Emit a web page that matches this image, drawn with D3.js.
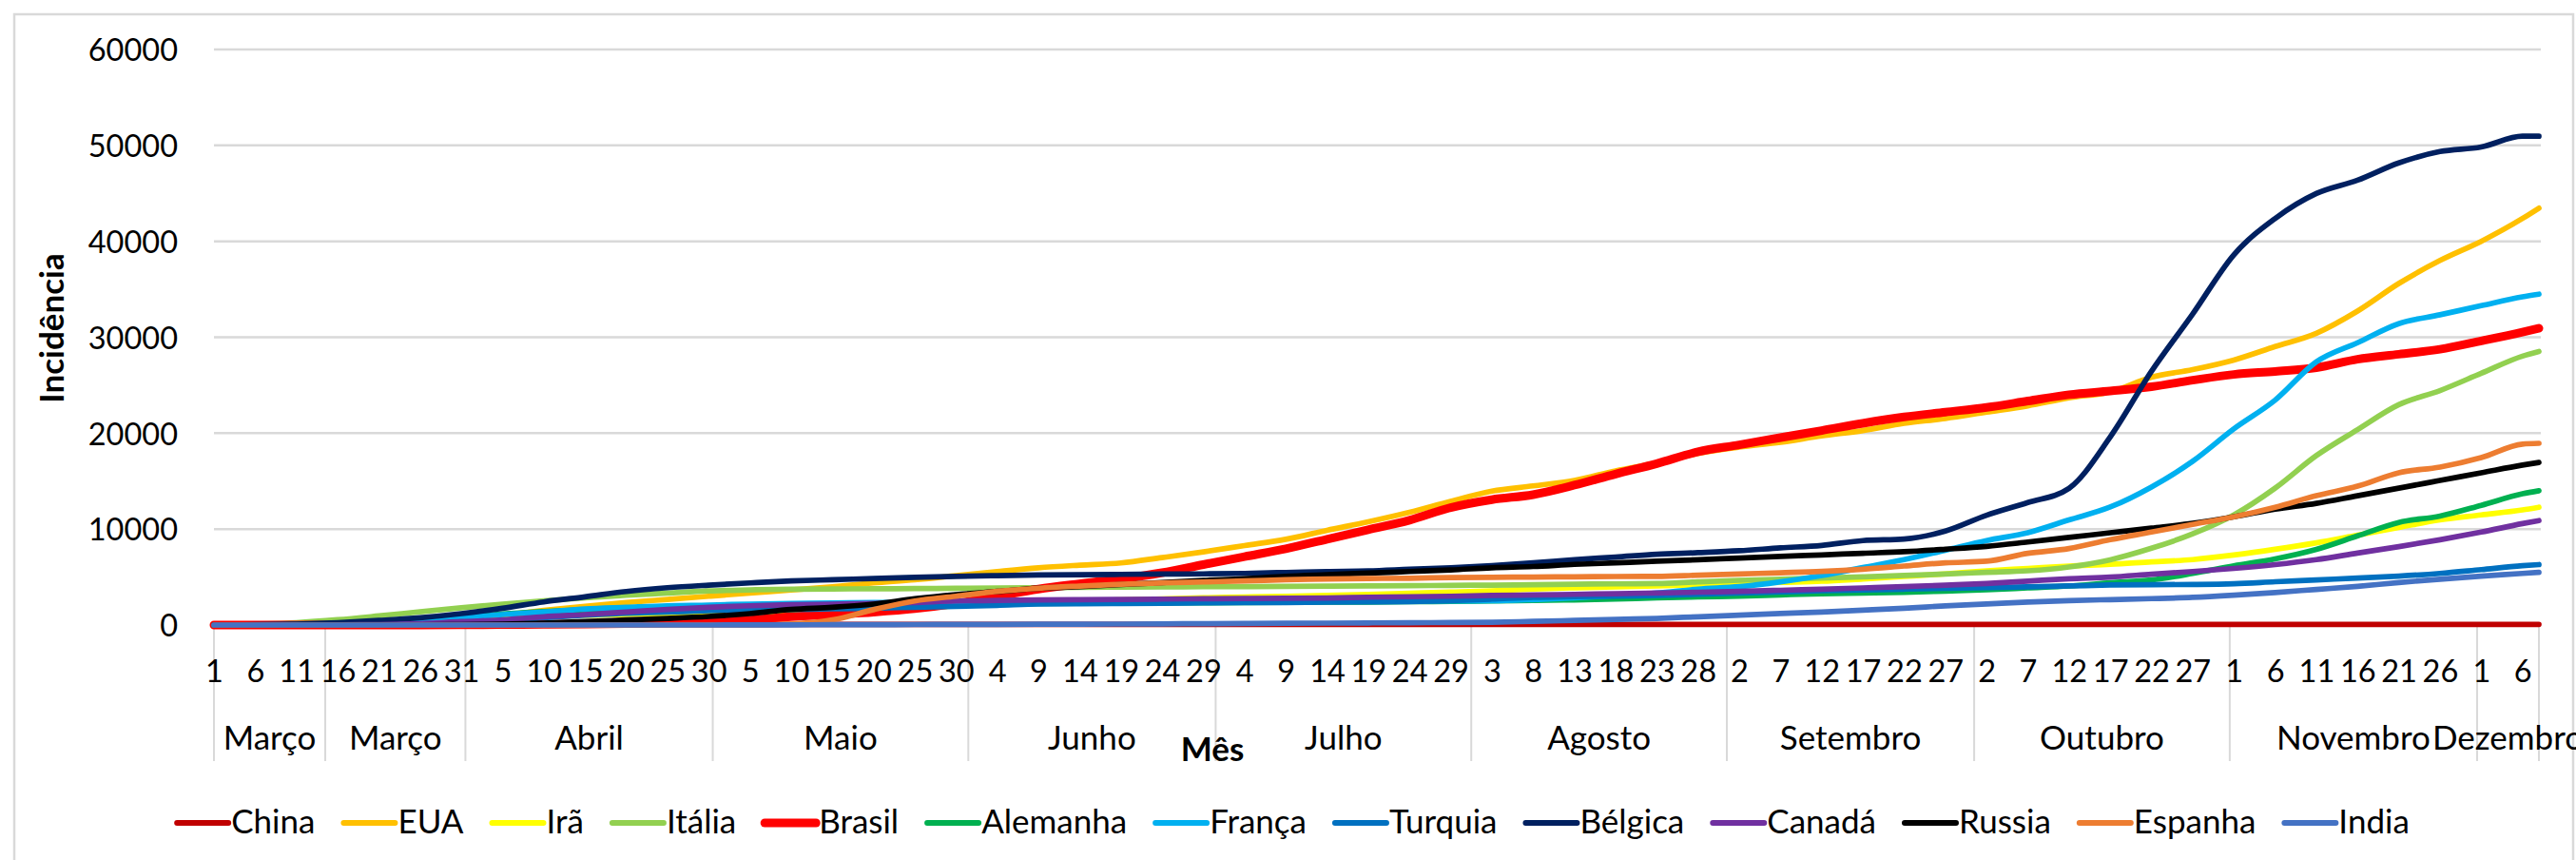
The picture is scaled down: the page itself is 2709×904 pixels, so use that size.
<!DOCTYPE html>
<html>
<head>
<meta charset="utf-8">
<script src="https://cdn.jsdelivr.net/npm/d3@7"></script>
<style>
  html, body { margin: 0; padding: 0; background: #fff; }
  svg { display: block; font-family: Lato, 'Liberation Sans', sans-serif; }
</style>
</head>
<body>
<svg id="chart" width="2709" height="904"></svg>
<script>
// sampled every 5 days (same days as the tick labels) + last day
const sampleDates = [
  '2020-03-01', '2020-03-06', '2020-03-11', '2020-03-16', '2020-03-21', '2020-03-26', '2020-03-31', '2020-04-05', '2020-04-10', '2020-04-15',
  '2020-04-20', '2020-04-25', '2020-04-30', '2020-05-05', '2020-05-10', '2020-05-15', '2020-05-20', '2020-05-25', '2020-05-30', '2020-06-04',
  '2020-06-09', '2020-06-14', '2020-06-19', '2020-06-24', '2020-06-29', '2020-07-04', '2020-07-09', '2020-07-14', '2020-07-19', '2020-07-24',
  '2020-07-29', '2020-08-03', '2020-08-08', '2020-08-13', '2020-08-18', '2020-08-23', '2020-08-28', '2020-09-02', '2020-09-07', '2020-09-12',
  '2020-09-17', '2020-09-22', '2020-09-27', '2020-10-02', '2020-10-07', '2020-10-12', '2020-10-17', '2020-10-22', '2020-10-27', '2020-11-01',
  '2020-11-06', '2020-11-11', '2020-11-16', '2020-11-21', '2020-11-26', '2020-12-01', '2020-12-06', '2020-12-08'
];
const firstDay = '2020-03-01';
const lastDay = '2020-12-08';

const china = [
  57, 57, 58, 58, 58, 58, 58, 58, 58, 58,
  58, 58, 58, 58, 58, 58, 58, 58, 58, 58,
  58, 59, 59, 59, 59, 59, 59, 59, 59, 59,
  59, 59, 60, 60, 60, 60, 60, 60, 60, 60,
  60, 60, 61, 61, 61, 61, 61, 61, 61, 61,
  61, 61, 62, 62, 62, 62, 63, 63
];
const eua = [
  0, 0, 10, 30, 100, 250, 500, 1020, 1520, 1950,
  2340, 2670, 3000, 3330, 3660, 3990, 4390, 4720, 5150, 5580,
  5970, 6240, 6470, 7030, 7620, 8280, 8940, 9870, 10760, 11750,
  12900, 13960, 14500, 15080, 16070, 16900, 17890, 18550, 19050, 19710,
  20270, 21030, 21530, 22190, 22850, 23680, 24300, 25840, 26630, 27630,
  29030, 30420, 32730, 35600, 38000, 40000, 42380, 43460
];
const ira = [
  0, 20, 60, 150, 260, 430, 600, 760, 860, 990,
  1090, 1190, 1290, 1350, 1420, 1520, 1620, 1800, 2000, 2180,
  2400, 2520, 2610, 2720, 2840, 2920, 3000, 3090, 3200, 3320,
  3430, 3560, 3760, 3880, 3980, 4070, 4200, 4330, 4450, 4560,
  4800, 5060, 5330, 5650, 5900, 6150, 6320, 6580, 6820, 7300,
  7890, 8570, 9370, 10170, 10960, 11480, 12000, 12280
];
const italia = [
  0, 100, 250, 550, 950, 1380, 1800, 2180, 2510, 2840,
  3100, 3330, 3560, 3660, 3730, 3760, 3780, 3800, 3830, 3860,
  3880, 3930, 3950, 3970, 3990, 4010, 4030, 4060, 4080, 4100,
  4130, 4160, 4200, 4250, 4290, 4330, 4500, 4660, 4780, 4890,
  5020, 5160, 5320, 5490, 5650, 6050, 6800, 8000, 9500, 11480,
  14270, 17660, 20370, 22970, 24440, 26240, 28030, 28510
];
const brasil = [
  0, 0, 0, 0, 5, 10, 20, 40, 70, 100,
  150, 230, 360, 530, 860, 1100, 1350, 1700, 2250, 3000,
  3750, 4300, 4800, 5450, 6300, 7130, 7950, 8940, 9930, 10920,
  12240, 13070, 13590, 14580, 15740, 16830, 18060, 18780, 19540, 20270,
  21030, 21690, 22190, 22690, 23350, 24010, 24400, 24840, 25520, 26120,
  26440, 26830, 27710, 28230, 28750, 29620, 30540, 30940
];
const alemanha = [
  0, 10, 30, 100, 250, 450, 800, 1150, 1400, 1600,
  1750, 1870, 1950, 2020, 2080, 2120, 2150, 2180, 2200, 2220,
  2240, 2260, 2280, 2300, 2320, 2340, 2360, 2380, 2400, 2430,
  2460, 2510, 2560, 2620, 2700, 2840, 2930, 3010, 3140, 3270,
  3340, 3410, 3540, 3670, 3870, 4070, 4400, 4700, 5380, 6180,
  6900, 7890, 9290, 10690, 11360, 12480, 13680, 14000
];
const franca = [
  0, 5, 30, 100, 220, 430, 760, 1090, 1350, 1680,
  1850, 2010, 2080, 2180, 2240, 2290, 2340, 2360, 2380, 2400,
  2410, 2420, 2440, 2450, 2460, 2470, 2480, 2490, 2500, 2510,
  2520, 2530, 2650, 2840, 3080, 3340, 3740, 4000, 4500, 5160,
  5990, 6810, 7800, 8800, 9620, 10950, 12300, 14390, 17070, 20450,
  23440, 27430, 29430, 31420, 32340, 33290, 34210, 34490
];
const turquia = [
  0, 0, 0, 10, 50, 100, 200, 430, 760, 1020,
  1220, 1350, 1490, 1560, 1620, 1690, 1750, 1850, 1950, 2050,
  2180, 2220, 2240, 2270, 2310, 2330, 2350, 2380, 2410, 2450,
  2550, 2700, 2880, 2960, 3020, 3080, 3210, 3340, 3450, 3570,
  3660, 3740, 3820, 3900, 3980, 4070, 4170, 4200, 4230, 4310,
  4510, 4700, 4900, 5100, 5380, 5780, 6180, 6300
];
const belgica = [
  0, 30, 100, 250, 480, 760, 1190, 1750, 2410, 2940,
  3500, 3890, 4160, 4390, 4590, 4720, 4850, 4980, 5080, 5150,
  5210, 5250, 5280, 5310, 5330, 5380, 5480, 5580, 5640, 5810,
  5970, 6200, 6480, 6810, 7080, 7370, 7540, 7740, 8040, 8300,
  8800, 8960, 9790, 11440, 12770, 14250, 19600, 26440, 32420, 38600,
  42380, 44980, 46370, 48170, 49360, 49840, 50960, 50960
];
const canada = [
  0, 0, 5, 20, 50, 150, 360, 530, 860, 1090,
  1350, 1620, 1850, 2010, 2110, 2180, 2240, 2350, 2510, 2560,
  2610, 2640, 2670, 2700, 2740, 2760, 2780, 2820, 2900, 2950,
  3000, 3080, 3130, 3200, 3270, 3340, 3420, 3510, 3620, 3740,
  3870, 4000, 4160, 4330, 4580, 4830, 5000, 5300, 5580, 5900,
  6300, 6820, 7500, 8170, 8890, 9690, 10570, 10890
];
const russia = [
  0, 0, 0, 5, 10, 20, 50, 100, 200, 360,
  530, 690, 890, 1190, 1620, 1850, 2180, 2740, 3170, 3500,
  3830, 3990, 4220, 4420, 4650, 4820, 5080, 5250, 5410, 5580,
  5740, 5970, 6100, 6320, 6480, 6650, 6800, 6980, 7150, 7310,
  7480, 7640, 7900, 8200, 8650, 9130, 9620, 10100, 10600, 11280,
  12080, 12680, 13480, 14270, 15070, 15870, 16670, 16950
];
const espanha = [
  0, 0, 0, 0, 0, 0, 0, 0, 0, 0,
  0, 0, 0, 0, 100, 530, 1600, 2510, 3000, 3500,
  3830, 4060, 4260, 4390, 4490, 4590, 4720, 4790, 4850, 4880,
  4950, 4980, 5000, 5030, 5060, 5080, 5200, 5320, 5450, 5590,
  5820, 6150, 6480, 6650, 7470, 7970, 8900, 9690, 10490, 11280,
  12280, 13480, 14470, 15870, 16470, 17460, 18860, 18940
];
const india = [
  0, 0, 0, 0, 0, 0, 0, 0, 0, 0,
  0, 0, 0, 10, 20, 30, 40, 50, 60, 70,
  80, 90, 100, 120, 140, 160, 180, 200, 220, 240,
  260, 290, 380, 480, 590, 690, 860, 1030, 1200, 1360,
  1550, 1750, 2000, 2200, 2400, 2550, 2650, 2750, 2880, 3110,
  3390, 3710, 4030, 4430, 4780, 5100, 5380, 5500
];

const countries = ['China', 'EUA', 'Irã', 'Itália', 'Brasil', 'Alemanha', 'França', 'Turquia', 'Bélgica', 'Canadá', 'Russia', 'Espanha', 'India'];
const seriesValues = [china, eua, ira, italia, brasil, alemanha, franca, turquia, belgica, canada, russia, espanha, india];
const colors = ['#C00000', '#FFC000', '#FFFF00', '#92D050', '#FF0000', '#00B050', '#00B0F0', '#0070C0', '#002060', '#7030A0', '#000000', '#ED7D31', '#4472C4'];

const yTicks = [0, 10000, 20000, 30000, 40000, 50000, 60000];
const dayTicks = sampleDates.slice(0, 57);
const monthGroups = [
  { name: 'Março', start: '2020-03-01' },
  { name: 'Março', start: '2020-03-15' },
  { name: 'Abril', start: '2020-04-01' },
  { name: 'Maio', start: '2020-05-01' },
  { name: 'Junho', start: '2020-06-01' },
  { name: 'Julho', start: '2020-07-01' },
  { name: 'Agosto', start: '2020-08-01' },
  { name: 'Setembro', start: '2020-09-01' },
  { name: 'Outubro', start: '2020-10-01' },
  { name: 'Novembro', start: '2020-11-01' },
  { name: 'Dezembro', start: '2020-12-01' }
];

const parse = d3.utcParse('%Y-%m-%d');
const svg = d3.select('#chart');
const numSize = 32.5;
const textSize = 35;
const grey = '#d9d9d9';

svg.append('rect')
  .attr('width', 2709).attr('height', 904).attr('fill', '#fff');
svg.append('rect')
  .attr('x', 15).attr('y', 15)
  .attr('width', 2691).attr('height', 920)
  .attr('fill', 'none').attr('stroke', grey).attr('stroke-width', 2.5);

const plotLeft = 225, plotRight = 2670, plotTop = 52, plotBottom = 657;

const x = d3.scaleUtc()
  .domain([parse(firstDay), parse(lastDay)])
  .range([plotLeft, plotRight]);
const y = d3.scaleLinear()
  .domain([0, 60000])
  .range([plotBottom, plotTop]);
const halfDay = (x(parse('2020-03-02')) - x(parse('2020-03-01'))) / 2;

// grid
svg.append('g')
  .selectAll('line')
  .data(yTicks)
  .enter().append('line')
    .attr('x1', plotLeft).attr('x2', plotRight + 2)
    .attr('y1', d => y(d)).attr('y2', d => y(d))
    .attr('stroke', grey).attr('stroke-width', 2.5);

// y axis
const yAxis = svg.append('g')
  .attr('transform', 'translate(187,0)')
  .call(d3.axisLeft(y).tickValues(yTicks).tickSize(0).tickPadding(0).tickFormat(d3.format('d')));
yAxis.select('.domain').remove();
yAxis.attr('font-family', null).attr('font-size', null);
yAxis.selectAll('text')
  .attr('x', 0).attr('dy', '0.36em')
  .attr('font-size', numSize).attr('fill', '#000');

// month separators
const bounds = monthGroups.map((g, i) => i == 0 ? x(parse(g.start)) : x(parse(g.start)) - halfDay);
bounds.push(x(parse(lastDay)));
svg.append('g')
  .selectAll('line')
  .data(bounds)
  .enter().append('line')
    .attr('x1', d => d).attr('x2', d => d)
    .attr('y1', plotBottom).attr('y2', 800)
    .attr('stroke', grey).attr('stroke-width', 2);

// day labels
const xAxis = svg.append('g')
  .attr('transform', `translate(0,${plotBottom})`)
  .call(d3.axisBottom(x).tickValues(dayTicks.map(parse)).tickSize(0).tickFormat(d3.utcFormat('%-d')));
xAxis.select('.domain').remove();
xAxis.attr('font-family', null).attr('font-size', null);
xAxis.selectAll('text')
  .attr('y', 60).attr('dy', null)
  .attr('font-size', numSize).attr('fill', '#000');

// month labels
svg.append('g')
  .selectAll('text')
  .data(monthGroups)
  .enter().append('text')
    .attr('x', (d, i) => (bounds[i] + bounds[i + 1]) / 2)
    .attr('y', 788)
    .attr('text-anchor', 'middle')
    .attr('font-size', textSize)
    .text(d => d.name);

// lines
const dates = sampleDates.map(parse);
const line = d3.line()
  .x((d, i) => x(dates[i]))
  .y(d => y(d))
  .curve(d3.curveMonotoneX);

svg.append('g')
  .selectAll('path')
  .data(seriesValues)
  .enter().append('path')
    .attr('d', line)
    .attr('fill', 'none')
    .attr('stroke', (d, i) => colors[i])
    .attr('stroke-width', (d, i) => countries[i] == 'Brasil' ? 9 : 5.7)
    .attr('stroke-linejoin', 'round')
    .attr('stroke-linecap', 'round');

// axis titles
svg.append('text')
  .attr('transform', 'translate(67,345) rotate(-90)')
  .attr('text-anchor', 'middle')
  .attr('font-size', textSize)
  .attr('font-weight', 'bold')
  .text('Incidência');
svg.append('text')
  .attr('x', 1275).attr('y', 800)
  .attr('text-anchor', 'middle')
  .attr('font-size', textSize)
  .attr('font-weight', 'bold')
  .text('Mês');

// legend
const legend = svg.append('g');
const item = legend.selectAll('g')
  .data(countries)
  .enter().append('g');
item.append('line')
  .attr('x1', 0).attr('x2', 54)
  .attr('y1', 865).attr('y2', 865)
  .attr('stroke', (d, i) => colors[i])
  .attr('stroke-width', d => d == 'Brasil' ? 9 : 6)
  .attr('stroke-linecap', 'round');
item.append('text')
  .attr('x', 57).attr('y', 876)
  .attr('font-size', textSize)
  .text(d => d);

let pos = 0;
const offsets = [];
item.each(function () {
  offsets.push(pos);
  pos += 57 + this.querySelector('text').getComputedTextLength() + 30;
});
const total = pos - 30;
const legendStart = 1360 - total / 2;
item.attr('transform', (d, i) => `translate(${legendStart + offsets[i]},0)`);
</script>
</body>
</html>
